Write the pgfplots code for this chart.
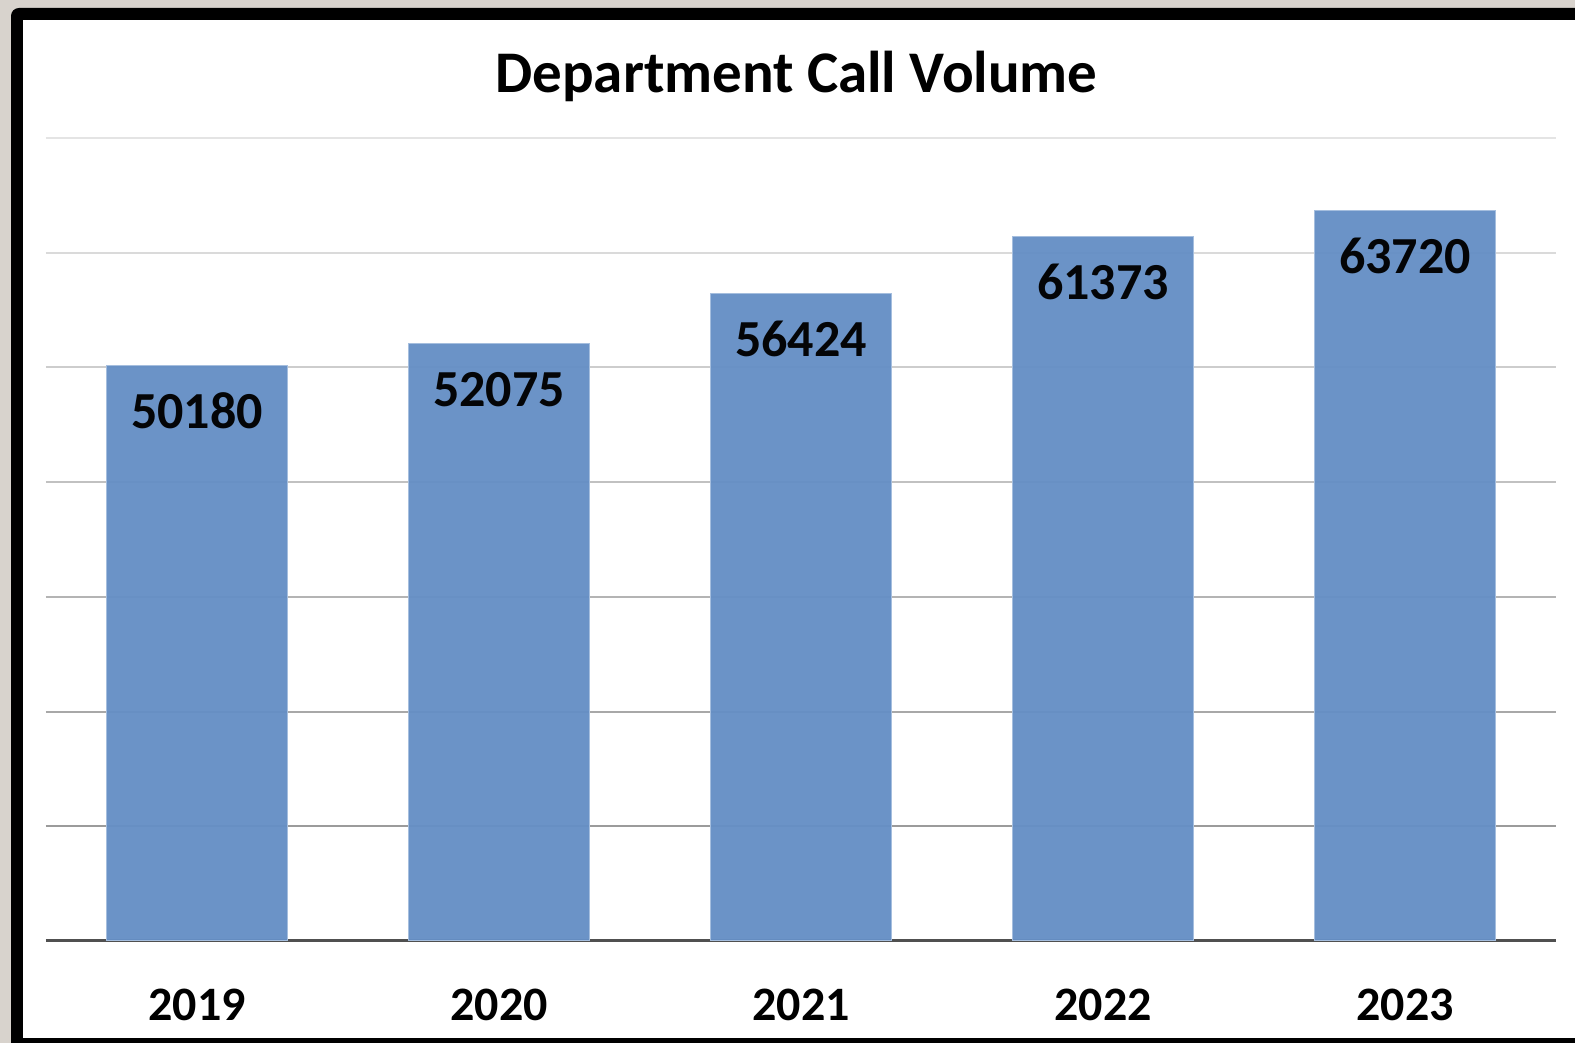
\documentclass[border=0pt]{standalone}
\usepackage{pgfplots}
\pgfplotsset{compat=1.18}
\usepackage{fontspec}
\setmainfont{Carlito}
\definecolor{barblue}{RGB}{101,143,197}
\definecolor{baredge}{RGB}{165,190,222}
\definecolor{bgray}{RGB}{216,211,205}
\definecolor{axisgray}{RGB}{80,80,80}
\begin{document}
\begin{tikzpicture}
\useasboundingbox (0,0) rectangle (787.5pt,521.5pt);
\fill[bgray] (0,0) rectangle (787.5pt,521.5pt);
\fill[black, rounded corners=4pt] (5.5pt,-8pt) rectangle (800pt,517.5pt);
\fill[white] (11.5pt,2.5pt) rectangle (800pt,511.5pt);
\begin{axis}[
  at={(23pt,51pt)}, anchor=south west,
  scale only axis, width=755pt, height=401.5pt,
  xmin=-0.5, xmax=4.5, ymin=0, ymax=70000,
  ybar, bar width=0.6,
  axis x line*=bottom, axis y line=none,
  x axis line style={draw=axisgray, line width=1.5pt},
  xtick={0,1,2,3,4}, xticklabels={2019,2020,2021,2022,2023},
  xtick style={draw=none}, ytick=\empty,
  xticklabel style={font=\fontsize{24}{24}\selectfont\bfseries, anchor=base, yshift=-35.5pt},
  clip=false,
  nodes near coords={\pgfmathprintnumber[assume math mode=true,1000 sep={}]{\pgfplotspointmeta}},
  nodes near coords style={font=\fontsize{26}{26}\selectfont\bfseries, anchor=base, yshift=-31.5pt, text=black},
]
\draw[color={rgb,255:red,155;green,155;blue,155}, line width=1pt] (axis cs:-0.5,10000) -- (axis cs:4.5,10000);
\draw[color={rgb,255:red,168;green,168;blue,168}, line width=1pt] (axis cs:-0.5,20000) -- (axis cs:4.5,20000);
\draw[color={rgb,255:red,180;green,180;blue,180}, line width=1pt] (axis cs:-0.5,30000) -- (axis cs:4.5,30000);
\draw[color={rgb,255:red,193;green,193;blue,193}, line width=1pt] (axis cs:-0.5,40000) -- (axis cs:4.5,40000);
\draw[color={rgb,255:red,205;green,205;blue,205}, line width=1pt] (axis cs:-0.5,50000) -- (axis cs:4.5,50000);
\draw[color={rgb,255:red,218;green,218;blue,218}, line width=1pt] (axis cs:-0.5,60000) -- (axis cs:4.5,60000);
\draw[color={rgb,255:red,228;green,228;blue,228}, line width=1pt] (axis cs:-0.5,70000) -- (axis cs:4.5,70000);
\addplot[fill=barblue, draw=baredge, line width=0.5pt, fill opacity=0.96] coordinates {(0,50180) (1,52075) (2,56424) (3,61373) (4,63720)};
\end{axis}
\node[anchor=base, font=\fontsize{29.5}{30}\selectfont\bfseries] at (398.25pt,475pt) {Department Call Volume};
\end{tikzpicture}
\end{document}
